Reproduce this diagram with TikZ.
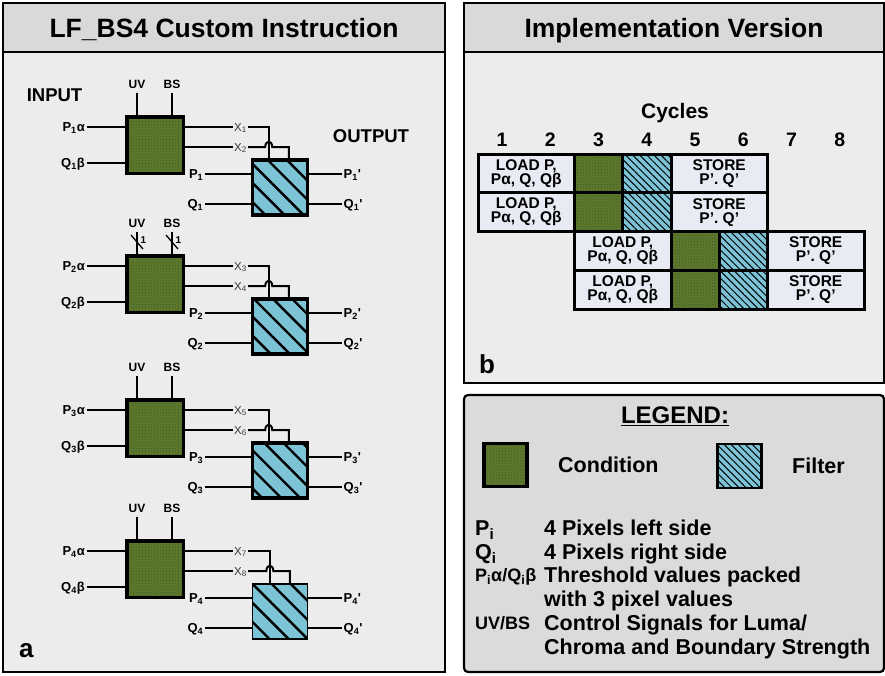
\documentclass[tikz,border=0pt]{standalone}
\usepackage{fontspec}
\setmainfont{Liberation Sans}
\usetikzlibrary{patterns,patterns.meta,calc}

\definecolor{hdrbg}{HTML}{D8DADA}
\definecolor{panelbg}{HTML}{ECECEC}
\definecolor{legendbg}{HTML}{DBDBDB}
\definecolor{condgreen}{HTML}{5D7A2D}
\definecolor{conddark}{HTML}{3C5520}
\definecolor{filtblue}{HTML}{7DC3D6}
\definecolor{cellbg}{HTML}{E8EBF3}
\definecolor{xgray}{HTML}{3A3A3A}

\tikzset{
  frame/.style={line width=2.2pt},
  wire/.style={line width=2pt},
  cond/.style={draw, line width=3.5pt, minimum size=56.5pt, inner sep=0pt,
    preaction={fill=condgreen}, pattern=crosshatch dots, pattern color=conddark},
  filt/.style={draw, line width=3.5pt, minimum size=55pt, inner sep=0pt,
    preaction={fill=filtblue},
    pattern={Lines[angle=-45,distance=13.5pt,line width=2.4pt]}, pattern color=black},
  condcell/.style={cond, line width=3pt, minimum width=48.25pt, minimum height=38.75pt},
  filtcell/.style={draw, line width=3pt, minimum width=48.25pt, minimum height=38.75pt,
    inner sep=0pt, preaction={fill=filtblue},
    pattern={Lines[angle=-45,distance=5pt,line width=1pt]}, pattern color=black},
  cell/.style={draw, line width=3pt, fill=cellbg, minimum height=38.75pt, inner sep=0pt,
    align=center, font=\bfseries\fontsize{15.5}{14}\selectfont},
  hdr/.style={font=\bfseries\fontsize{26.5}{26.5}\selectfont, text height=19pt, text depth=0pt},
  io/.style={font=\bfseries\fontsize{18.5}{18.5}\selectfont, text height=13.3pt, text depth=0pt},
  sig/.style={font=\bfseries\fontsize{12}{12}\selectfont, text height=8.6pt, text depth=0pt, inner sep=1.5pt},
  pin/.style={font=\bfseries\fontsize{13}{13}\selectfont, text height=9.4pt, text depth=0pt, inner sep=1.5pt},
  xlbl/.style={font=\fontsize{11.5}{11.5}\selectfont, text=xgray, text height=8.3pt, text depth=0pt, inner sep=1pt},
  tick/.style={font=\bfseries\fontsize{10}{10}\selectfont, text height=7.2pt, text depth=0pt, inner sep=0pt},
  cyc/.style={font=\bfseries\fontsize{21}{21}\selectfont, text height=15.1pt, text depth=0pt},
  num/.style={font=\bfseries\fontsize{19.5}{19.5}\selectfont, text height=14pt, text depth=0pt},
  lgtitle/.style={font=\bfseries\fontsize{24}{24}\selectfont, text height=17.3pt, text depth=0pt},
  lg/.style={font=\bfseries\fontsize{21.5}{21.5}\selectfont, text height=15.5pt, text depth=0pt, inner sep=0pt, anchor=west},
  lgs/.style={font=\bfseries\fontsize{18}{18}\selectfont, text height=13pt, text depth=0pt, inner sep=0pt, anchor=west},
  tag/.style={font=\bfseries\fontsize{26}{26}\selectfont, anchor=base west, inner sep=0pt},
}

\begin{document}
\begin{tikzpicture}[x=1pt,y=-1pt]
\useasboundingbox (0,0) rectangle (885,675);

% ---- panel frames ----
\fill[panelbg] (3,3) rectangle (445,672);
\fill[hdrbg] (3,3) rectangle (445,52);
\draw[frame] (3,52) -- (445,52);
\draw[frame] (3,3) rectangle (445,672);

\fill[panelbg] (464,3) rectangle (884,383);
\fill[hdrbg] (464,3) rectangle (884,52);
\draw[frame] (464,52) -- (884,52);
\draw[frame] (464,3) rectangle (884,383);

\draw[frame, fill=legendbg, rounded corners=4pt] (464,395) rectangle (884,672);

% ---- titles ----
\node[hdr] (ttlA) at (224,27.5) {LF\_BS4 Custom Instruction};
\node[hdr] (ttlB) at (674,27.5) {Implementation Version};

% ---- panel a: four condition/filter pairs ----
\node[io] (inp) at (54.5,95) {INPUT};
\node[io] (outp) at (371,136) {OUTPUT};

\foreach \i/\d/\bw in {1/0/3.5pt, 2/139/3.5pt, 3/283/3.5pt, 4/424/1.3pt}{
  \pgfmathtruncatemacro\xa{2*\i-1}
  \pgfmathtruncatemacro\xb{2*\i}
  \node[cond] (c\i) at (155,145+\d) {};
  \node[filt, line width=\bw] (f\i) at (280,187.5+\d) {};

  % control signals
  \node[sig] (uv\i) at (137,84+\d) {UV};
  \node[sig] (bs\i) at (172,84+\d) {BS};
  \draw[wire] ([yshift=-2.5pt]uv\i.south) -- (uv\i.south |- c\i.north);
  \draw[wire] ([yshift=-2.5pt]bs\i.south) -- (bs\i.south |- c\i.north);

  % condition inputs
  \node[pin, anchor=east] (pa\i) at (86.5,127+\d) {P\textsubscript{\i}α};
  \node[pin, anchor=east] (qb\i) at (86.5,163+\d) {Q\textsubscript{\i}β};
  \draw[wire] (pa\i.east) -- (pa\i.east -| c\i.west);
  \draw[wire] (qb\i.east) -- (qb\i.east -| c\i.west);

  % condition outputs X
  \node[xlbl] (xa\i) at (240.5,127+\d) {X\textsubscript{\xa}};
  \node[xlbl] (xb\i) at (240.5,147+\d) {X\textsubscript{\xb}};
  \draw[wire] (c\i.east |- xa\i.west) -- (xa\i.west);
  \draw[wire] (c\i.east |- xb\i.west) -- (xb\i.west);
  \coordinate (va\i) at ($(f\i.north west)+(18,0)$);
  \coordinate (vb\i) at ($(f\i.north west)+(38,0)$);
  \draw[wire] (xa\i.east) -| (va\i);
  \draw[wire] (xb\i.east) -- ($(va\i |- xb\i.east)+(-3.5,0)$)
     .. controls +(0,-7) and +(0,-7) .. ($(va\i |- xb\i.east)+(3.5,0)$) -| (vb\i);

  % filter inputs and outputs
  \node[pin, anchor=east] (pi\i) at (205,174+\d) {P\textsubscript{\i}};
  \node[pin, anchor=east] (qi\i) at (205,204+\d) {Q\textsubscript{\i}};
  \draw[wire] (pi\i.east) -- (pi\i.east -| f\i.west);
  \draw[wire] (qi\i.east) -- (qi\i.east -| f\i.west);
  \node[pin, anchor=west] (po\i) at (342,174+\d) {P\textsubscript{\i}\textquotesingle};
  \node[pin, anchor=west] (qo\i) at (342,203.5+\d) {Q\textsubscript{\i}\textquotesingle};
  \draw[wire] (f\i.east |- po\i.west) -- (po\i.west);
  \draw[wire] (f\i.east |- qo\i.west) -- (qo\i.west);
}

% bus-width ticks on the second pair
\foreach \n/\tx in {tu/137, tb/172}{
  \coordinate (\n) at (\tx,242);
  \draw[line width=1.3pt] ($(\n)+(-6,-7)$) -- ($(\n)+(6,7)$);
  \node[tick] (\n l) at ($(\n)+(6.5,-2.5)$) {1};
}

\node[tag] (tagA) at (19,657) {a};

% ---- panel b: pipeline schedule ----
\node[cyc] (cyc) at (675,111) {Cycles};
\foreach \k in {1,...,8}{
  \node[num] (n\k) at ({478+(\k-0.5)*48.25},139) {\k};
}
\foreach \r/\s in {0/0, 1/0, 2/2, 3/2}{
  \node[cell, minimum width=96.5pt] (ld\r) at ({478+(\s+1)*48.25},{154+(\r+0.5)*38.75}) {LOAD P,\\Pα, Q, Qβ};
  \node[condcell] (cc\r) at ({478+(\s+2.5)*48.25},{154+(\r+0.5)*38.75}) {};
  \node[filtcell] (fc\r) at ({478+(\s+3.5)*48.25},{154+(\r+0.5)*38.75}) {};
  \node[cell, minimum width=96.5pt] (st\r) at ({478+(\s+5)*48.25},{154+(\r+0.5)*38.75}) {STORE\\P'. Q'};
}

\node[tag] (tagB) at (479,373) {b};

% ---- legend ----
\node[lgtitle] (lgt) at (675,415) {\underline{LEGEND:}};
\node[cond, minimum size=43pt] (lgc) at (505.5,465) {};
\node[lg] (lgct) at (558,465) {Condition};
\node[filtcell, minimum width=44pt, minimum height=44pt, line width=2.6pt] (lgf) at (739.5,466) {};
\node[lg] (lgft) at (792,466) {Filter};

\node[lg] (k1) at (475,528) {P\textsubscript{i}};
\node[lg] (d1) at (544,528) {4 Pixels left side};
\node[lg] (k2) at (475,552) {Q\textsubscript{i}};
\node[lg] (d2) at (544,552) {4 Pixels right side};
\node[lgs] (k3) at (475,575) {P\textsubscript{i}α/Q\textsubscript{i}β};
\node[lg] (d3) at (544,575) {Threshold values packed};
\node[lg] (d3b) at (544,599) {with 3 pixel values};
\node[lgs] (k4) at (475,623) {UV/BS};
\node[lg] (d4) at (544,623) {Control Signals for Luma/};
\node[lg] (d4b) at (544,647) {Chroma and Boundary Strength};
\end{tikzpicture}
\end{document}
